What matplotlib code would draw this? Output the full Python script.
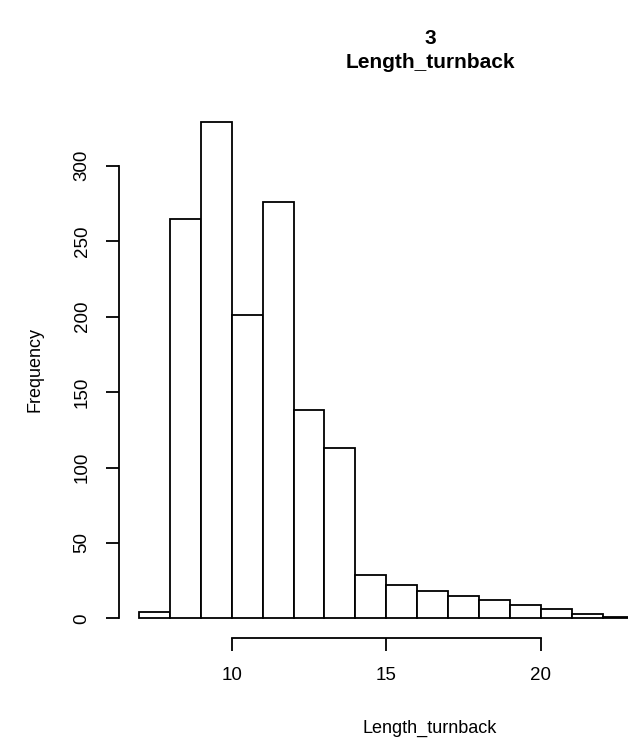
import numpy as np
import matplotlib
matplotlib.use("Agg")
import matplotlib.pyplot as plt

bin_edges = np.arange(7, 24)
counts = [4, 265, 329, 201, 276, 138, 113, 29, 22, 18, 15, 12, 9, 6, 3, 1]
x_ticks = [10, 15, 20]
y_ticks = [0, 50, 100, 150, 200, 250, 300]

plt.rcParams['font.family'] = ['Liberation Sans', 'DejaVu Sans']

fig = plt.figure(figsize=(6.28, 7.45), dpi=100)
W, H = 628, 745
# plot region (R style), extends past the right edge of the picture
left, right, top, bottom = 119, 741, 102, 638.3
ax = fig.add_axes([left / W, 1 - bottom / H, (right - left) / W, (bottom - top) / H])

ax.bar(bin_edges[:-1], counts, width=1, align='edge', facecolor='white',
       edgecolor='black', linewidth=1.3)

ax.set_xlim(6.35, 26.48)
ax.set_ylim(-13.16, 342.2)

for s in ['top', 'right']:
    ax.spines[s].set_visible(False)
ax.spines['bottom'].set_bounds(x_ticks[0], x_ticks[-1])
ax.spines['left'].set_bounds(y_ticks[0], y_ticks[-1])
for s in ['bottom', 'left']:
    ax.spines[s].set_linewidth(1.3)

ax.set_xticks(x_ticks)
ax.set_yticks(y_ticks)
ax.tick_params(axis='both', length=9.5, width=1.3, labelsize=13.5)
ax.tick_params(axis='x', pad=11)
ax.tick_params(axis='y', pad=11)
for lab in ax.get_yticklabels():
    lab.set_rotation(90)
    lab.set_va('center')

fig.text(430 / W, 1 - 728 / H, 'Length_turnback', ha='center', va='center', fontsize=13)
fig.text(35 / W, 1 - 370 / H, 'Frequency', ha='center', va='center', fontsize=13, rotation=90)

fig.text(430 / W, 1 - 38 / H, '3', ha='center', va='center', fontsize=15, fontweight='bold')
fig.text(430 / W, 1 - 62 / H, 'Length_turnback', ha='center', va='center', fontsize=15, fontweight='bold')

fig.savefig('out.png', dpi=100)
